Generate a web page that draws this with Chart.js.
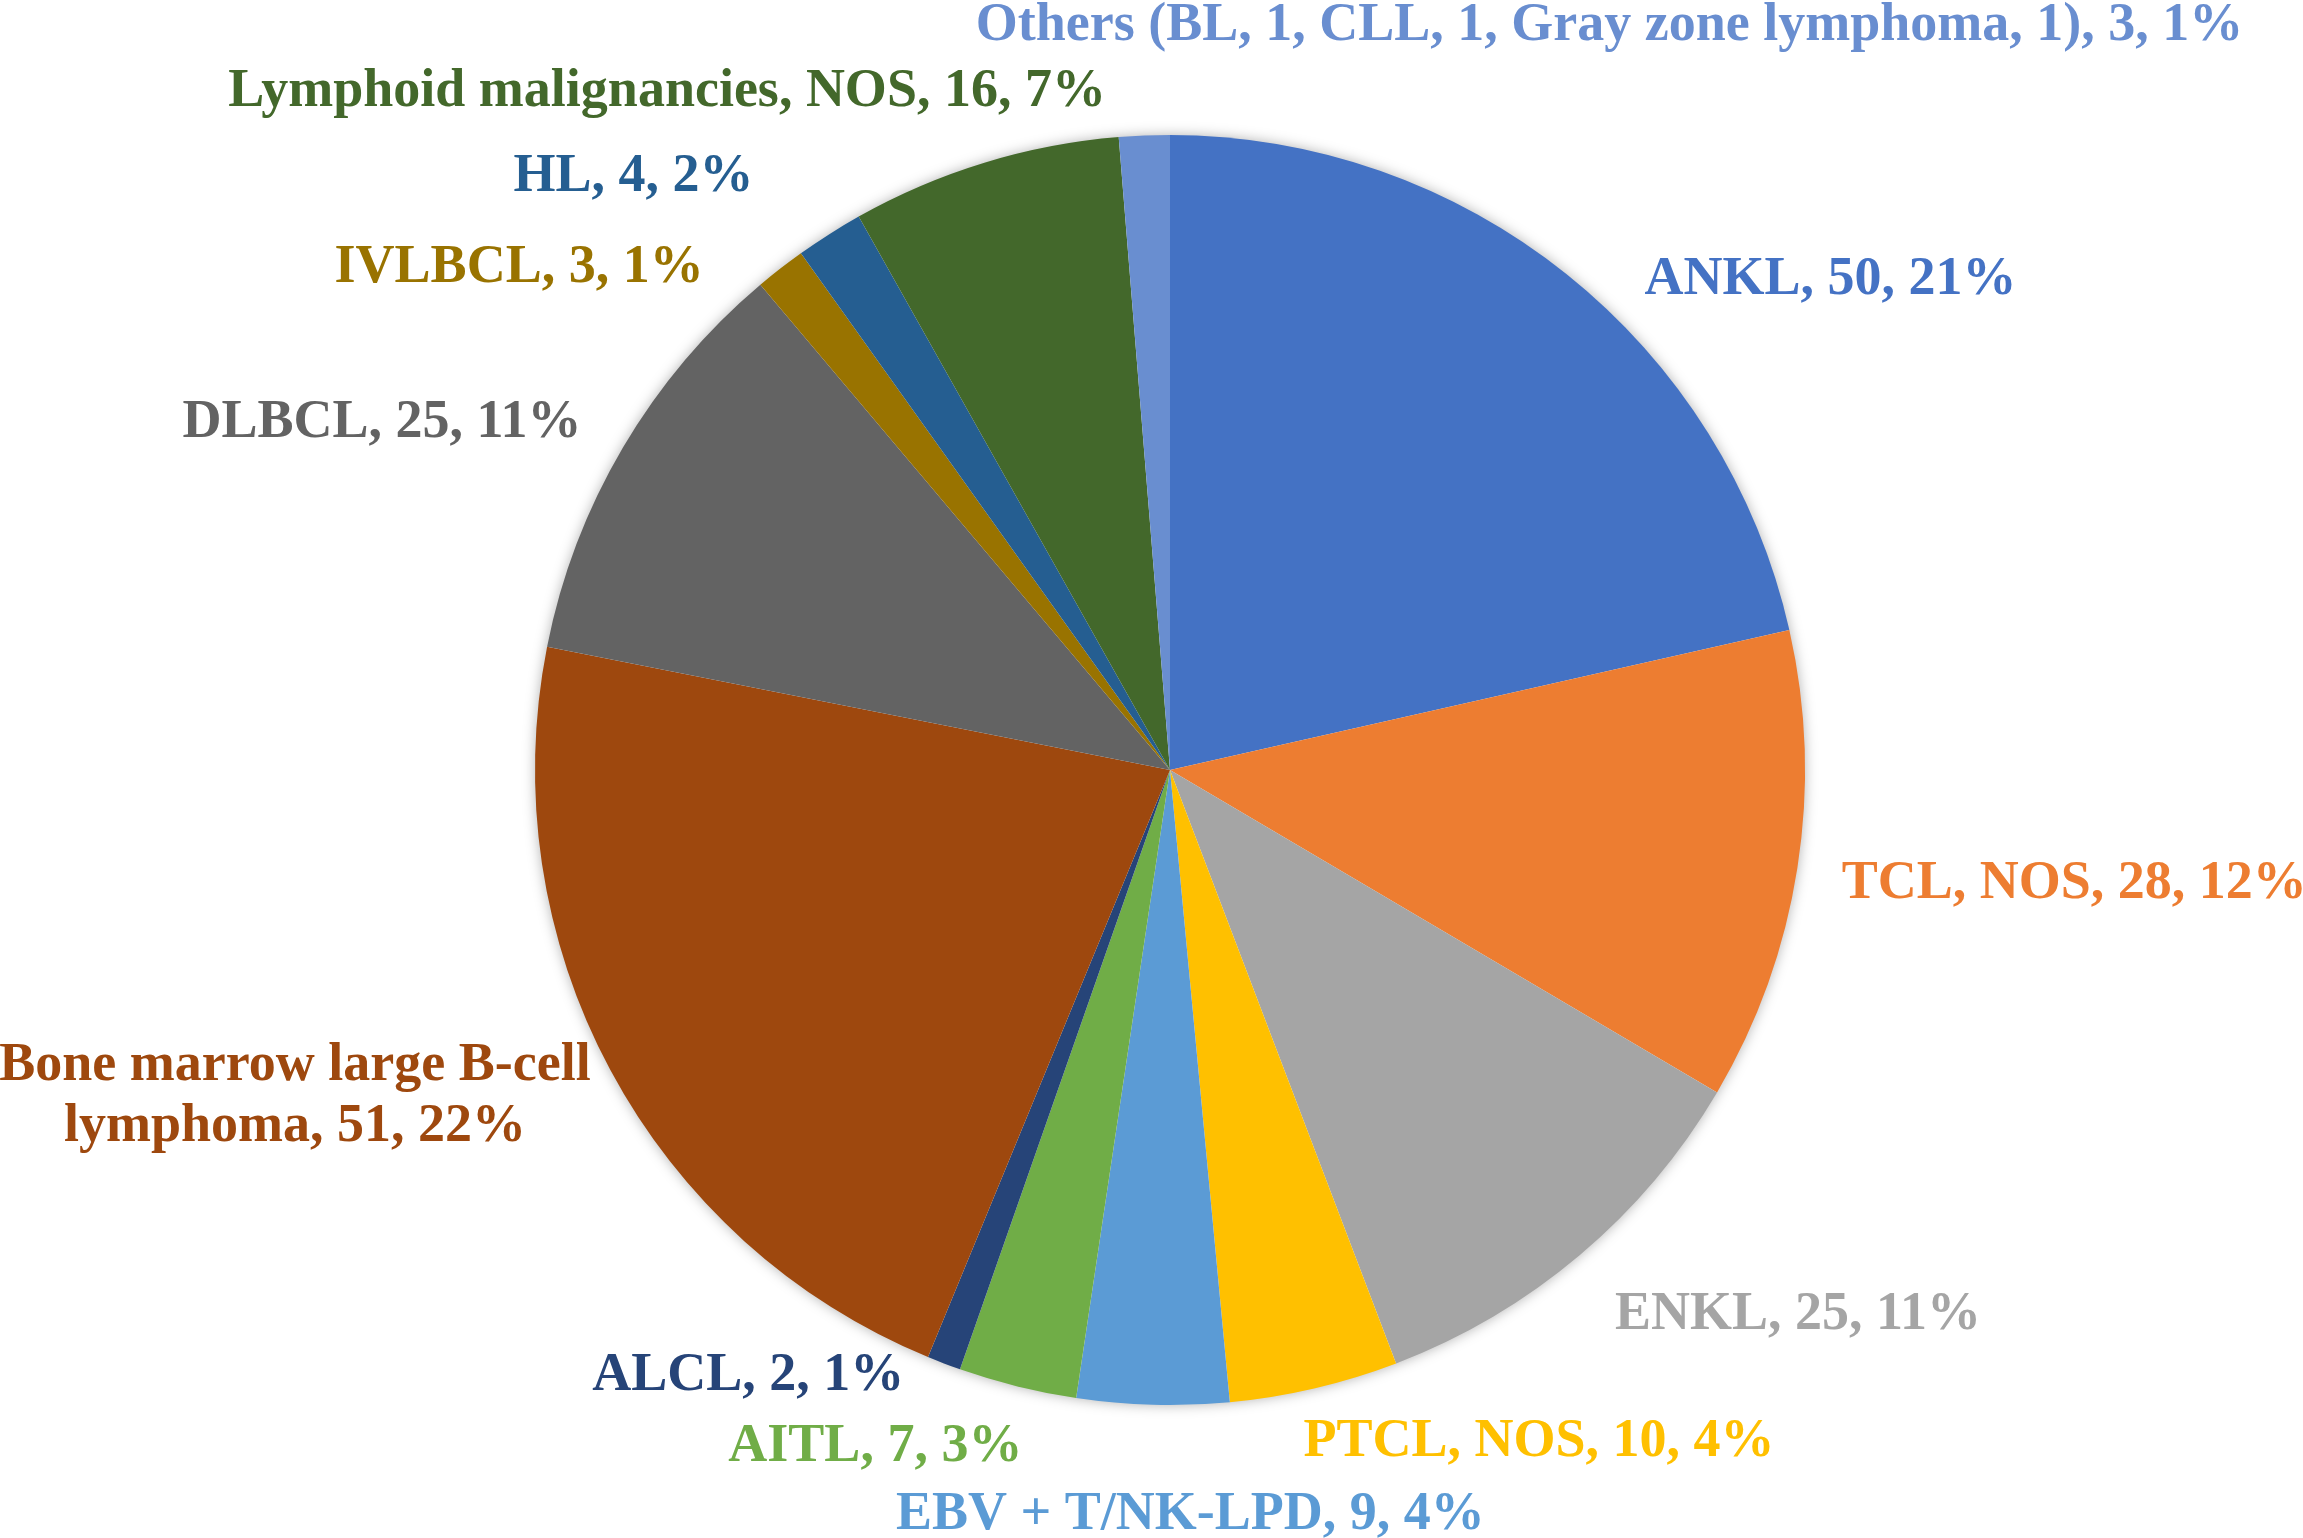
<!DOCTYPE html>
<html>
<head>
<meta charset="utf-8">
<script src="https://cdn.jsdelivr.net/npm/chart.js@4.4.1/dist/chart.umd.min.js"></script>
<style>
  html, body { margin: 0; padding: 0; background: #fff; }
  #wrap { width: 2303px; height: 1538px; }
</style>
</head>
<body>
<div id="wrap"><canvas id="chart1"></canvas></div>
<script>
const categories = [
  "ANKL", "TCL, NOS", "ENKL", "PTCL, NOS", "EBV + T/NK-LPD", "AITL", "ALCL",
  "Bone marrow large B-cell lymphoma", "DLBCL", "IVLBCL", "HL",
  "Lymphoid malignancies, NOS", "Others (BL, 1, CLL, 1, Gray zone lymphoma, 1)"
];
const counts = [50, 28, 25, 10, 9, 7, 2, 51, 25, 3, 4, 16, 3];
const colors = [
  "#4472C4", "#ED7D31", "#A5A5A5", "#FFC000", "#5B9BD5", "#70AD47", "#264478",
  "#9E480E", "#636363", "#997300", "#255E91", "#43682B", "#698ED0"
];

// label centres, in units of the pie radius from the pie centre (w = wrap width in px)
const labelSpots = [
  { dx: 1.040, dy: -0.771 },
  { dx: 1.424, dy: 0.180 },
  { dx: 0.989, dy: 0.858 },
  { dx: 0.581, dy: 1.059 },
  { dx: 0.032, dy: 1.173 },
  { dx: -0.464, dy: 1.067 },
  { dx: -0.664, dy: 0.955 },
  { dx: -1.378, dy: 0.514, w: 630 },
  { dx: -1.241, dy: -0.546 },
  { dx: -1.025, dy: -0.790 },
  { dx: -0.845, dy: -0.933 },
  { dx: -0.792, dy: -1.067 },
  { dx: 0.692, dy: -1.171 }
];

const total = counts.reduce((a, b) => a + b, 0);

const shadowPlugin = {
  id: "pieShadow",
  beforeDatasetsDraw(chart) {
    const arc = chart.getDatasetMeta(0).data[0];
    if (!arc) return;
    const ctx = chart.ctx;
    ctx.save();
    ctx.shadowColor = "rgba(0,0,0,0.35)";
    ctx.shadowBlur = 14;
    ctx.fillStyle = "#fff";
    ctx.beginPath();
    ctx.arc(arc.x, arc.y, arc.outerRadius - 1, 0, Math.PI * 2);
    ctx.fill();
    ctx.restore();
  }
};

const labelPlugin = {
  id: "sliceLabels",
  afterDatasetsDraw(chart) {
    const meta = chart.getDatasetMeta(0);
    const ctx = chart.ctx;
    ctx.save();
    ctx.font = "bold 54px 'Liberation Serif', 'Times New Roman', serif";
    ctx.textAlign = "center";
    ctx.textBaseline = "middle";
    meta.data.forEach((arc, i) => {
      const spot = labelSpots[i];
      const r = arc.outerRadius;
      const x = arc.x + spot.dx * r;
      const y = arc.y + spot.dy * r;
      const pct = Math.round(counts[i] / total * 100);
      const text = categories[i] + ", " + counts[i] + ", " + pct + "%";
      let lines = [text];
      if (spot.w) {
        lines = [];
        let cur = "";
        text.split(" ").forEach((word) => {
          const test = cur ? cur + " " + word : word;
          if (ctx.measureText(test).width > spot.w && cur) {
            lines.push(cur);
            cur = word;
          } else {
            cur = test;
          }
        });
        lines.push(cur);
      }
      const lh = 61;
      ctx.fillStyle = colors[i];
      lines.forEach((ln, k) => {
        ctx.fillText(ln, x, y + (k - (lines.length - 1) / 2) * lh);
      });
    });
    ctx.restore();
  }
};

new Chart(document.getElementById("chart1"), {
  type: "pie",
  data: {
    labels: categories,
    datasets: [{
      data: counts,
      backgroundColor: colors,
      borderWidth: 0
    }]
  },
  options: {
    responsive: true,
    maintainAspectRatio: false,
    animation: false,
    layout: { padding: { top: 135, bottom: 133, left: 535, right: 498 } },
    plugins: {
      legend: { display: false },
      tooltip: { enabled: false }
    }
  },
  plugins: [shadowPlugin, labelPlugin]
});
</script>
</body>
</html>
